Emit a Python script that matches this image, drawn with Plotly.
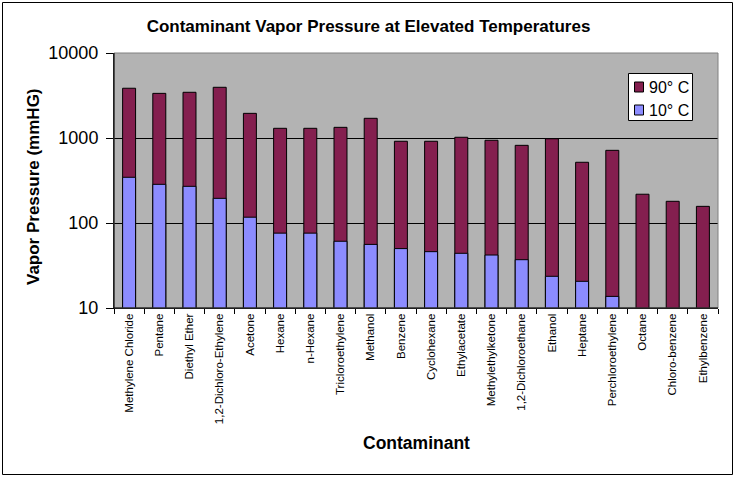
import plotly.graph_objects as go

contaminants = ["Methylene Chloride", "Pentane", "Diethyl Ether", "1,2-Dichloro-Ethylene",
                "Acetone", "Hexane", "n-Hexane", "Tricloroethylene", "Methanol", "Benzene",
                "Cyclohexane", "Ethylacetate", "Methylethylketone", "1,2-Dichloroethane",
                "Ethanol", "Heptane", "Perchloroethylene", "Octane", "Chloro-benzene",
                "Ethylbenzene"]
vp_90c = [3850, 3350, 3450, 3950, 1950, 1300, 1300, 1335, 1705, 915,
          915, 1020, 940, 820, 980, 518, 716, 218, 180, 157]
vp_10c = [345, 285, 270, 195, 117, 76, 76, 61, 56, 50,
          46, 44, 42, 37, 23.6, 20.6, 13.7, 7.5, 5, 4.5]
y_ticks = [10, 100, 1000, 10000]
series_names = ["90° C", "10° C"]
series_colors = ["#841F4F", "#8C8CFF"]

FONT = "Liberation Sans, Arial, sans-serif"
W, H = 737, 478
L, R, T, B = 114, 718, 53, 308   # plot area pixel box
PW, PH = R - L, B - T


def px(x):
    return (x - L) / PW


def py(y):
    return (B - y) / PH


fig = go.Figure()
for name, vals, col in zip(series_names, [vp_90c, vp_10c], series_colors):
    fig.add_trace(go.Bar(x=contaminants, y=vals, name=name, showlegend=False,
                         marker=dict(color=col, line=dict(color="black", width=1))))

fig.update_layout(
    width=W, height=H,
    margin=dict(l=L, r=W - R, t=T, b=H - B, autoexpand=False),
    paper_bgcolor="white", plot_bgcolor="#B3B3B3",
    barmode="overlay", bargap=0.57,
    font=dict(family=FONT, color="black"),
    title=dict(text="<b>Contaminant Vapor Pressure at Elevated Temperatures</b>",
               x=0.5, xanchor="center", y=1 - 26 / H, yanchor="middle",
               font=dict(size=17, family=FONT)),
    showlegend=False,
)
fig.update_xaxes(
    type="category", tickangle=-90, tickfont=dict(size=11.5, family=FONT),
    ticks="outside", ticklen=5, tickcolor="black", tickson="boundaries",
    showline=True, linecolor="black", linewidth=1,
    showgrid=False, automargin=False,
)
fig.update_yaxes(
    type="log", range=[1, 4], tickvals=y_ticks, ticktext=[str(v) for v in y_ticks],
    tickfont=dict(size=18, family=FONT),
    ticks="outside", ticklen=7, tickcolor="black", ticklabelstandoff=4,
    showline=True, linecolor="black", linewidth=1,
    showgrid=True, gridcolor="black", gridwidth=1, automargin=False,
)

# axis titles
fig.add_annotation(text="<b>Contaminant</b>", xref="paper", yref="paper",
                   x=0.5, y=py(443), xanchor="center", yanchor="middle", showarrow=False,
                   font=dict(size=17.5, family=FONT))
fig.add_annotation(text="<b>Vapor Pressure (mmHG)</b>", xref="paper", yref="paper",
                   x=px(33), y=py(187), xanchor="center", yanchor="middle", showarrow=False,
                   textangle=-90, font=dict(size=17, family=FONT))

# plot area border (top/right)
fig.add_shape(type="rect", xref="paper", yref="paper", x0=0, y0=0, x1=1, y1=1,
              line=dict(color="#808080", width=1), fillcolor="rgba(0,0,0,0)", layer="above")
# re-draw left/bottom axis lines in black over border
fig.add_shape(type="line", xref="paper", yref="paper", x0=0, y0=0, x1=0, y1=1,
              line=dict(color="black", width=1), layer="above")
fig.add_shape(type="line", xref="paper", yref="paper", x0=0, y0=0, x1=1, y1=0,
              line=dict(color="black", width=1), layer="above")
# chart outer border
fig.add_shape(type="rect", xref="paper", yref="paper",
              x0=px(2.5), x1=px(732.5), y0=py(474.5), y1=py(2.5),
              line=dict(color="black", width=1), fillcolor="rgba(0,0,0,0)")

# legend box
fig.add_shape(type="rect", xref="paper", yref="paper",
              x0=px(628.5), x1=px(692.5), y0=py(120.5), y1=py(73.5),
              line=dict(color="black", width=1), fillcolor="white", layer="above")
for i, (name, col) in enumerate(zip(series_names, series_colors)):
    cy = 87 + 23 * i
    fig.add_shape(type="rect", xref="paper", yref="paper",
                  x0=px(634.5), x1=px(643.5), y0=py(cy + 5), y1=py(cy - 5),
                  line=dict(color="black", width=1), fillcolor=col, layer="above")
    fig.add_annotation(text=name, xref="paper", yref="paper",
                       x=px(647), y=py(cy), xanchor="left", yanchor="middle",
                       showarrow=False, font=dict(size=16, family=FONT))

fig.write_html("out.html", config={"displayModeBar": False},
               post_script="document.body.style.margin='0';")
